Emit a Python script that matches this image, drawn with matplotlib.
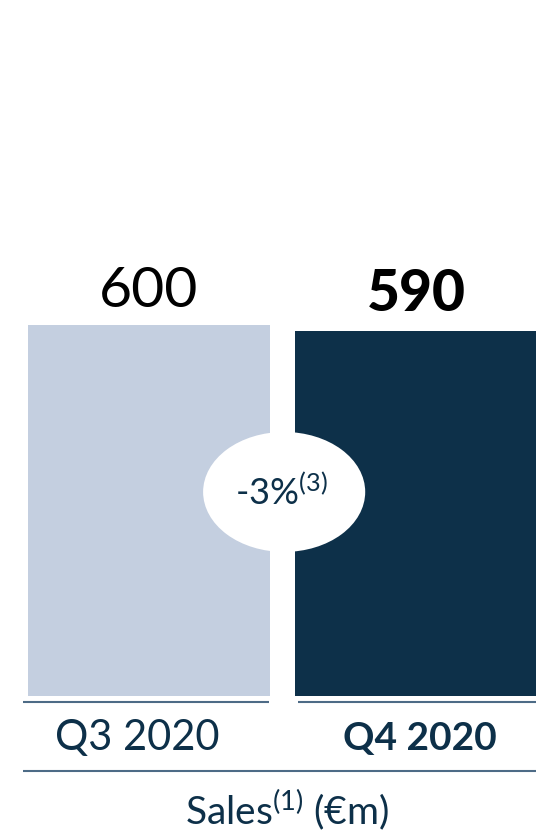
import matplotlib
matplotlib.use("Agg")
import matplotlib.pyplot as plt
from matplotlib.patches import Ellipse

plt.rcParams['font.family'] = ['Lato', 'DejaVu Sans']
plt.rcParams['mathtext.fontset'] = 'custom'
plt.rcParams['mathtext.rm'] = 'Lato'
plt.rcParams['mathtext.it'] = 'Lato'

# quarterly sales, EUR m
quarters = ['Q3 2020', 'Q4 2020']
sales = [600, 590]
change_label = '-3%'
change_note = '(3)'
metric_label = 'Sales'
metric_note = '(1)'
unit_label = '(€m)'

LIGHT = '#c4cfe0'
DARK = '#0d3049'
RULE = '#4d6b86'

fig = plt.figure(figsize=(5.36, 8.34), dpi=100)
ax = fig.add_axes([0, 0, 1, 1])
ax.set_xlim(-0.558, 1.449)
ax.set_ylim(-223.2, 1125.6)
ax.axis('off')

x = list(range(len(quarters)))
ax.bar(x, sales, width=0.904, color=[LIGHT, DARK], align='center')

# value labels above bars
ax.text(x[0], sales[0] + 13, f'{sales[0]}', ha='center', va='bottom',
        fontsize=41, color='black')
ax.text(x[1], sales[1] + 17, f'{sales[1]}', ha='center', va='bottom',
        fontsize=41, fontweight='black', color='black')

# rules under each bar and under the category row
ax.plot([-0.472, 0.449], [-9.7, -9.7], color=RULE, lw=1.5, solid_capstyle='butt')
ax.plot([0.558, 1.449], [-9.7, -9.7], color=RULE, lw=1.5, solid_capstyle='butt')
ax.plot([-0.472, 1.449], [-121.3, -121.3], color=RULE, lw=1.5, solid_capstyle='butt')

ax.text(x[0] - 0.045, -68, quarters[0], ha='center', va='center',
        fontsize=30, color=DARK)
ax.text(x[1] + 0.015, -68, quarters[1], ha='center', va='center',
        fontsize=28, fontweight='bold', color=DARK)

ax.text(0.516, -185, metric_label + r'$^{' + metric_note + r'}$ ' + unit_label,
        ha='center', va='center', fontsize=28, color=DARK)

# change bubble between the bars
mid = (x[0] + x[1]) / 2
ax.add_patch(Ellipse((mid + 0.006, 330), 0.607, 194, facecolor='white',
                     edgecolor='none', zorder=3))
ax.text(mid - 0.005, 330, change_label + r'$^{' + change_note + r'}$',
        ha='center', va='center', fontsize=26, color=DARK, zorder=4)

fig.savefig('out.png', dpi=100)
